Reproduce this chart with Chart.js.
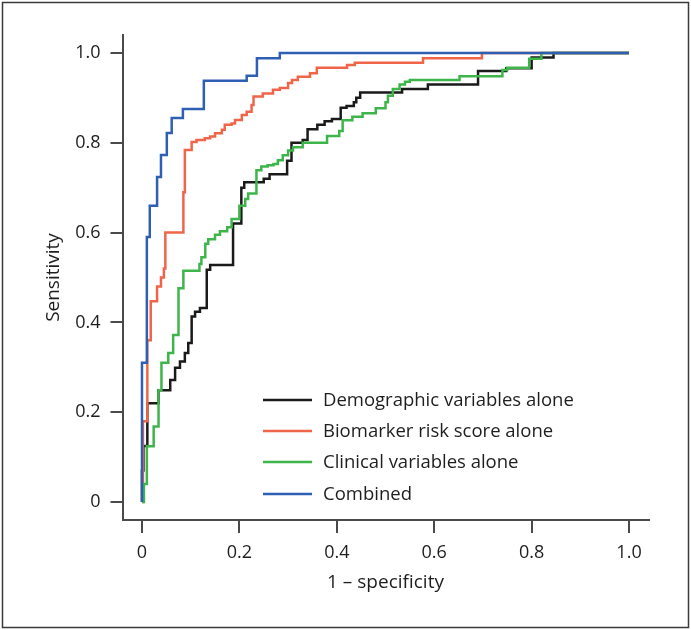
<!DOCTYPE html>
<html>
<head>
<meta charset="utf-8">
<script src="https://cdn.jsdelivr.net/npm/chart.js@4"></script>
<style>
  body { margin: 0; background: #fff; }
  canvas { display: block; }
</style>
</head>
<body>
<canvas id="rocChart" width="691" height="630"></canvas>
<script>
// ROC curves (x = 1 - specificity, y = sensitivity)
const demoX = [0, 0, 0.003, 0.011, 0.034, 0.058, 0.068, 0.078, 0.088, 0.095, 0.102, 0.109, 0.119, 0.133, 0.14, 0.187, 0.204, 0.21, 0.25, 0.262, 0.298, 0.307, 0.33, 0.34, 0.36, 0.375, 0.39, 0.408, 0.42, 0.435, 0.44, 0.448, 0.534, 0.587, 0.69, 0.748, 0.8, 0.845, 1.0];
const demoY = [0, 0.07, 0.125, 0.22, 0.249, 0.272, 0.299, 0.313, 0.332, 0.354, 0.413, 0.424, 0.432, 0.517, 0.528, 0.62, 0.70, 0.712, 0.72, 0.73, 0.76, 0.80, 0.806, 0.83, 0.84, 0.848, 0.853, 0.878, 0.882, 0.89, 0.90, 0.912, 0.92, 0.93, 0.96, 0.966, 0.99, 1.0, 1.0];

const bioX = [0, 0.002, 0.011, 0.018, 0.031, 0.039, 0.045, 0.048, 0.085, 0.088, 0.102, 0.112, 0.129, 0.14, 0.15, 0.164, 0.17, 0.184, 0.191, 0.205, 0.215, 0.225, 0.229, 0.248, 0.269, 0.283, 0.30, 0.308, 0.32, 0.345, 0.359, 0.421, 0.437, 0.577, 0.698, 1.0];
const bioY = [0, 0.18, 0.36, 0.447, 0.48, 0.50, 0.52, 0.60, 0.69, 0.784, 0.802, 0.806, 0.81, 0.814, 0.821, 0.829, 0.84, 0.843, 0.851, 0.862, 0.869, 0.884, 0.903, 0.91, 0.918, 0.922, 0.933, 0.94, 0.947, 0.955, 0.967, 0.973, 0.978, 0.988, 1.0, 1.0];

const clinX = [0, 0.004, 0.01, 0.024, 0.034, 0.04, 0.054, 0.064, 0.075, 0.085, 0.118, 0.122, 0.13, 0.136, 0.15, 0.16, 0.175, 0.184, 0.2, 0.212, 0.218, 0.235, 0.245, 0.258, 0.27, 0.279, 0.289, 0.30, 0.31, 0.33, 0.38, 0.405, 0.412, 0.432, 0.453, 0.48, 0.50, 0.505, 0.515, 0.529, 0.54, 0.55, 0.652, 0.74, 0.75, 0.795, 0.82, 1.0];
const clinY = [0, 0.04, 0.124, 0.168, 0.249, 0.31, 0.332, 0.372, 0.476, 0.515, 0.53, 0.545, 0.575, 0.585, 0.595, 0.603, 0.612, 0.63, 0.66, 0.675, 0.687, 0.739, 0.747, 0.75, 0.753, 0.761, 0.772, 0.783, 0.79, 0.80, 0.815, 0.826, 0.85, 0.858, 0.866, 0.877, 0.89, 0.905, 0.92, 0.93, 0.936, 0.94, 0.948, 0.962, 0.967, 0.987, 1.0, 1.0];

const combX = [0, 0, 0.010, 0.016, 0.031, 0.039, 0.051, 0.061, 0.084, 0.127, 0.215, 0.236, 0.283, 1.0];
const combY = [0, 0.31, 0.59, 0.66, 0.724, 0.773, 0.822, 0.855, 0.875, 0.938, 0.949, 0.988, 1.0, 1.0];

const seriesNames = ['Demographic variables alone', 'Biomarker risk score alone', 'Clinical variables alone', 'Combined'];
const seriesColors = ['#1a1a1a', '#f0654a', '#3db54b', '#2f5fb3'];

const xTicks = [0, 0.2, 0.4, 0.6, 0.8, 1.0];
const yTicks = [0, 0.2, 0.4, 0.6, 0.8, 1.0];

const fontFamily = '"Open Sans", Lato, sans-serif';
const textColor = '#1e1e1e';
const axisColor = '#4a4a4a';

function toPoints(xs, ys) {
    return xs.map((x, i) => ({ x: x, y: ys[i] }));
}

// white page with a thin frame round it
const framePlugin = {
    id: 'frame',
    beforeDraw(chart) {
        const ctx = chart.ctx;
        ctx.save();
        ctx.fillStyle = '#fff';
        ctx.fillRect(0, 0, chart.width, chart.height);
        ctx.strokeStyle = '#3a3a3a';
        ctx.lineWidth = 1.5;
        ctx.strokeRect(2.5, 2.5, chart.width - 5, chart.height - 5);
        ctx.restore();
    }
};

// legend sits inside the plot, lower right
const insideLegend = {
    id: 'insideLegend',
    afterDraw(chart) {
        const ctx = chart.ctx;
        const x0 = 263, lineLen = 49, textX = 323;
        const rowY = [400, 431, 462, 494];
        ctx.save();
        ctx.font = '18.5px ' + fontFamily;
        ctx.textBaseline = 'middle';
        chart.data.datasets.forEach((ds, i) => {
            ctx.strokeStyle = ds.borderColor;
            ctx.lineWidth = 2.5;
            ctx.beginPath();
            ctx.moveTo(x0, rowY[i]);
            ctx.lineTo(x0 + lineLen, rowY[i]);
            ctx.stroke();
            ctx.fillStyle = textColor;
            ctx.fillText(ds.label, textX, rowY[i] + 1);
        });
        ctx.restore();
    }
};

const allX = [demoX, bioX, clinX, combX];
const allY = [demoY, bioY, clinY, combY];

const tickLabel = (v) => v === 0 ? '0' : v.toFixed(1);

new Chart(document.getElementById('rocChart').getContext('2d'), {
    type: 'line',
    data: {
        datasets: seriesNames.map((name, i) => ({
            label: name,
            data: toPoints(allX[i], allY[i]),
            borderColor: seriesColors[i],
            backgroundColor: seriesColors[i],
            borderWidth: 2.5,
            stepped: 'before',
            pointRadius: 0,
            fill: false,
            order: i === 3 ? 0 : 4 - i
        }))
    },
    options: {
        responsive: false,
        animation: false,
        layout: { padding: { left: 0, top: 35, right: 42.5, bottom: 0 } },
        plugins: {
            legend: { display: false },
            tooltip: { enabled: false }
        },
        scales: {
            x: {
                type: 'linear',
                min: -0.04,
                max: 1.04,
                afterFit: (scale) => { scale.height = 110; },
                afterBuildTicks: (scale) => { scale.ticks = xTicks.map(v => ({ value: v })); },
                border: { display: true, color: axisColor, width: 2 },
                grid: { drawOnChartArea: false, drawTicks: true, tickLength: 13, color: axisColor, lineWidth: 2 },
                ticks: {
                    padding: 9,
                    color: textColor,
                    font: { family: fontFamily, size: 18 },
                    callback: tickLabel
                },
                title: {
                    display: true,
                    text: '1 – specificity',
                    color: textColor,
                    font: { family: fontFamily, size: 19 },
                    padding: { top: 0, bottom: 36 }
                }
            },
            y: {
                type: 'linear',
                min: -0.04,
                max: 1.04,
                afterFit: (scale) => { scale.width = 122.5; },
                afterBuildTicks: (scale) => { scale.ticks = yTicks.map(v => ({ value: v })); },
                border: { display: true, color: axisColor, width: 2 },
                grid: { drawOnChartArea: false, drawTicks: true, tickLength: 12, color: axisColor, lineWidth: 2 },
                ticks: {
                    padding: 10,
                    color: textColor,
                    font: { family: fontFamily, size: 18 },
                    callback: tickLabel
                },
                title: {
                    display: true,
                    text: 'Sensitivity',
                    color: textColor,
                    font: { family: fontFamily, size: 19 },
                    padding: { top: 42, bottom: 0 }
                }
            }
        }
    },
    plugins: [framePlugin, insideLegend]
});
</script>
</body>
</html>
